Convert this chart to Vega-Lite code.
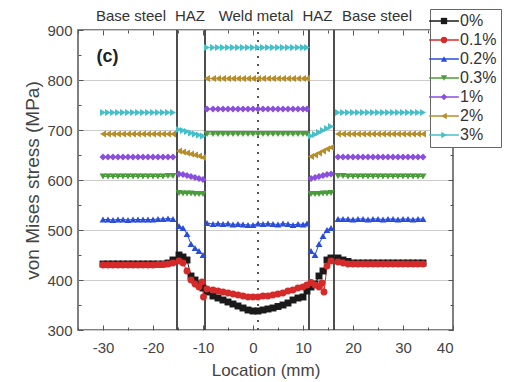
{
"$schema":"https://vega.github.io/schema/vega-lite/v6.json",
"width":375,"height":300,
"autosize":{"type":"none"},
"padding":{"left":78,"top":30,"right":54,"bottom":52},
"config":{"font":"Liberation Sans","view":{"stroke":"#555","strokeWidth":1.5},
"axis":{"domain":false,"labelFont":"Liberation Sans","titleFont":"Liberation Sans","labelColor":"#444","titleColor":"#444","tickColor":"#555","titleFontWeight":"normal","grid":false}},
"datasets":{"pts":[
{"s":"0%","x":-30,"y":432,"r":1},{"s":"0%","x":-29,"y":432,"r":1},{"s":"0%","x":-28,"y":432,"r":1},{"s":"0%","x":-27,"y":432,"r":1},{"s":"0%","x":-26,"y":432,"r":1},{"s":"0%","x":-25,"y":432,"r":1},{"s":"0%","x":-24,"y":432,"r":1},{"s":"0%","x":-23,"y":432,"r":1},{"s":"0%","x":-22,"y":432,"r":1},{"s":"0%","x":-21,"y":432,"r":1},{"s":"0%","x":-20,"y":432,"r":1},{"s":"0%","x":-19,"y":432,"r":1},{"s":"0%","x":-18,"y":432,"r":1},{"s":"0%","x":-17,"y":434,"r":1},{"s":"0%","x":-16,"y":440,"r":1},
{"s":"0%","x":-14.8,"y":450,"r":2},{"s":"0%","x":-14,"y":446,"r":2},{"s":"0%","x":-13.2,"y":440,"r":2},{"s":"0%","x":-12.4,"y":408,"r":2},{"s":"0%","x":-11.6,"y":400,"r":2},{"s":"0%","x":-10.8,"y":392,"r":2},{"s":"0%","x":-10,"y":384,"r":2},
{"s":"0%","x":-9.2,"y":376,"r":3},{"s":"0%","x":-8,"y":368,"r":3},{"s":"0%","x":-7,"y":364,"r":3},{"s":"0%","x":-6,"y":360,"r":3},{"s":"0%","x":-5,"y":356,"r":3},{"s":"0%","x":-4,"y":352,"r":3},{"s":"0%","x":-3,"y":348,"r":3},{"s":"0%","x":-2,"y":344,"r":3},{"s":"0%","x":-1,"y":340,"r":3},{"s":"0%","x":0,"y":338,"r":3},{"s":"0%","x":1,"y":338,"r":3},{"s":"0%","x":2,"y":340,"r":3},{"s":"0%","x":3,"y":342,"r":3},{"s":"0%","x":4,"y":344,"r":3},{"s":"0%","x":5,"y":347,"r":3},{"s":"0%","x":6,"y":350,"r":3},{"s":"0%","x":7,"y":354,"r":3},{"s":"0%","x":8,"y":360,"r":3},{"s":"0%","x":9,"y":364,"r":3},{"s":"0%","x":10,"y":366,"r":3},{"s":"0%","x":10.8,"y":378,"r":3},
{"s":"0%","x":11.6,"y":386,"r":4},{"s":"0%","x":12.4,"y":392,"r":4},{"s":"0%","x":13.2,"y":408,"r":4},{"s":"0%","x":14,"y":418,"r":4},{"s":"0%","x":14.8,"y":440,"r":4},{"s":"0%","x":15.6,"y":444,"r":4},
{"s":"0%","x":17,"y":444,"r":5},{"s":"0%","x":18,"y":440,"r":5},{"s":"0%","x":19,"y":437,"r":5},{"s":"0%","x":20,"y":434,"r":5},{"s":"0%","x":21,"y":434,"r":5},{"s":"0%","x":22,"y":434,"r":5},{"s":"0%","x":23,"y":434,"r":5},{"s":"0%","x":24,"y":434,"r":5},{"s":"0%","x":25,"y":434,"r":5},{"s":"0%","x":26,"y":434,"r":5},{"s":"0%","x":27,"y":434,"r":5},{"s":"0%","x":28,"y":434,"r":5},{"s":"0%","x":29,"y":434,"r":5},{"s":"0%","x":30,"y":434,"r":5},{"s":"0%","x":31,"y":434,"r":5},{"s":"0%","x":32,"y":434,"r":5},{"s":"0%","x":33,"y":434,"r":5},{"s":"0%","x":34,"y":434,"r":5},

{"s":"0.1%","x":-30,"y":430,"r":1},{"s":"0.1%","x":-29,"y":430,"r":1},{"s":"0.1%","x":-28,"y":430,"r":1},{"s":"0.1%","x":-27,"y":430,"r":1},{"s":"0.1%","x":-26,"y":430,"r":1},{"s":"0.1%","x":-25,"y":430,"r":1},{"s":"0.1%","x":-24,"y":430,"r":1},{"s":"0.1%","x":-23,"y":430,"r":1},{"s":"0.1%","x":-22,"y":430,"r":1},{"s":"0.1%","x":-21,"y":430,"r":1},{"s":"0.1%","x":-20,"y":430,"r":1},{"s":"0.1%","x":-19,"y":431,"r":1},{"s":"0.1%","x":-18,"y":431,"r":1},{"s":"0.1%","x":-17,"y":432,"r":1},{"s":"0.1%","x":-16,"y":434,"r":1},
{"s":"0.1%","x":-14.8,"y":438,"r":2},{"s":"0.1%","x":-14,"y":434,"r":2},{"s":"0.1%","x":-13.2,"y":418,"r":2},{"s":"0.1%","x":-12.4,"y":400,"r":2},{"s":"0.1%","x":-11.6,"y":392,"r":2},{"s":"0.1%","x":-10.8,"y":386,"r":2},{"s":"0.1%","x":-10.2,"y":396,"r":2},{"s":"0.1%","x":-9.9,"y":366,"r":2},
{"s":"0.1%","x":-9.2,"y":382,"r":3},{"s":"0.1%","x":-8,"y":380,"r":3},{"s":"0.1%","x":-7,"y":378,"r":3},{"s":"0.1%","x":-6,"y":376,"r":3},{"s":"0.1%","x":-5,"y":374,"r":3},{"s":"0.1%","x":-4,"y":372,"r":3},{"s":"0.1%","x":-3,"y":370,"r":3},{"s":"0.1%","x":-2,"y":368,"r":3},{"s":"0.1%","x":-1,"y":366,"r":3},{"s":"0.1%","x":0,"y":366,"r":3},{"s":"0.1%","x":1,"y":366,"r":3},{"s":"0.1%","x":2,"y":368,"r":3},{"s":"0.1%","x":3,"y":368,"r":3},{"s":"0.1%","x":4,"y":370,"r":3},{"s":"0.1%","x":5,"y":372,"r":3},{"s":"0.1%","x":6,"y":374,"r":3},{"s":"0.1%","x":7,"y":378,"r":3},{"s":"0.1%","x":8,"y":380,"r":3},{"s":"0.1%","x":9,"y":384,"r":3},{"s":"0.1%","x":10,"y":386,"r":3},{"s":"0.1%","x":10.8,"y":390,"r":3},
{"s":"0.1%","x":11.6,"y":395,"r":4},{"s":"0.1%","x":12.4,"y":390,"r":4},{"s":"0.1%","x":13.2,"y":386,"r":4},{"s":"0.1%","x":13.8,"y":394,"r":4},{"s":"0.1%","x":14.2,"y":376,"r":4},{"s":"0.1%","x":14.8,"y":428,"r":4},{"s":"0.1%","x":15.6,"y":438,"r":4},
{"s":"0.1%","x":17,"y":436,"r":5},{"s":"0.1%","x":18,"y":434,"r":5},{"s":"0.1%","x":19,"y":432,"r":5},{"s":"0.1%","x":20,"y":432,"r":5},{"s":"0.1%","x":21,"y":432,"r":5},{"s":"0.1%","x":22,"y":432,"r":5},{"s":"0.1%","x":23,"y":432,"r":5},{"s":"0.1%","x":24,"y":432,"r":5},{"s":"0.1%","x":25,"y":432,"r":5},{"s":"0.1%","x":26,"y":432,"r":5},{"s":"0.1%","x":27,"y":432,"r":5},{"s":"0.1%","x":28,"y":432,"r":5},{"s":"0.1%","x":29,"y":432,"r":5},{"s":"0.1%","x":30,"y":432,"r":5},{"s":"0.1%","x":31,"y":432,"r":5},{"s":"0.1%","x":32,"y":432,"r":5},{"s":"0.1%","x":33,"y":432,"r":5},{"s":"0.1%","x":34,"y":432,"r":5},

{"s":"0.2%","x":-30,"y":521,"r":1},{"s":"0.2%","x":-29,"y":521,"r":1},{"s":"0.2%","x":-28,"y":520,"r":1},{"s":"0.2%","x":-27,"y":521,"r":1},{"s":"0.2%","x":-26,"y":521,"r":1},{"s":"0.2%","x":-25,"y":520,"r":1},{"s":"0.2%","x":-24,"y":521,"r":1},{"s":"0.2%","x":-23,"y":521,"r":1},{"s":"0.2%","x":-22,"y":521,"r":1},{"s":"0.2%","x":-21,"y":521,"r":1},{"s":"0.2%","x":-20,"y":521,"r":1},{"s":"0.2%","x":-19,"y":522,"r":1},{"s":"0.2%","x":-18,"y":522,"r":1},{"s":"0.2%","x":-17,"y":523,"r":1},{"s":"0.2%","x":-16,"y":522,"r":1},
{"s":"0.2%","x":-14.8,"y":508,"r":2},{"s":"0.2%","x":-14,"y":504,"r":2},{"s":"0.2%","x":-13.2,"y":492,"r":2},{"s":"0.2%","x":-12.4,"y":472,"r":2},{"s":"0.2%","x":-11.6,"y":464,"r":2},{"s":"0.2%","x":-10.8,"y":458,"r":2},{"s":"0.2%","x":-10,"y":450,"r":2},
{"s":"0.2%","x":-9.2,"y":514,"r":3},{"s":"0.2%","x":-8,"y":512,"r":3},{"s":"0.2%","x":-7,"y":513,"r":3},{"s":"0.2%","x":-6,"y":512,"r":3},{"s":"0.2%","x":-5,"y":513,"r":3},{"s":"0.2%","x":-4,"y":511,"r":3},{"s":"0.2%","x":-3,"y":512,"r":3},{"s":"0.2%","x":-2,"y":511,"r":3},{"s":"0.2%","x":-1,"y":510,"r":3},{"s":"0.2%","x":0,"y":510,"r":3},{"s":"0.2%","x":1,"y":513,"r":3},{"s":"0.2%","x":2,"y":512,"r":3},{"s":"0.2%","x":3,"y":513,"r":3},{"s":"0.2%","x":4,"y":512,"r":3},{"s":"0.2%","x":5,"y":511,"r":3},{"s":"0.2%","x":6,"y":513,"r":3},{"s":"0.2%","x":7,"y":512,"r":3},{"s":"0.2%","x":8,"y":510,"r":3},{"s":"0.2%","x":9,"y":512,"r":3},{"s":"0.2%","x":10,"y":511,"r":3},{"s":"0.2%","x":10.8,"y":513,"r":3},
{"s":"0.2%","x":11.6,"y":458,"r":4},{"s":"0.2%","x":12.4,"y":450,"r":4},{"s":"0.2%","x":13.2,"y":472,"r":4},{"s":"0.2%","x":14,"y":488,"r":4},{"s":"0.2%","x":14.8,"y":500,"r":4},{"s":"0.2%","x":15.6,"y":504,"r":4},
{"s":"0.2%","x":17,"y":522,"r":5},{"s":"0.2%","x":18,"y":522,"r":5},{"s":"0.2%","x":19,"y":522,"r":5},{"s":"0.2%","x":20,"y":521,"r":5},{"s":"0.2%","x":21,"y":522,"r":5},{"s":"0.2%","x":22,"y":522,"r":5},{"s":"0.2%","x":23,"y":521,"r":5},{"s":"0.2%","x":24,"y":522,"r":5},{"s":"0.2%","x":25,"y":522,"r":5},{"s":"0.2%","x":26,"y":521,"r":5},{"s":"0.2%","x":27,"y":522,"r":5},{"s":"0.2%","x":28,"y":522,"r":5},{"s":"0.2%","x":29,"y":521,"r":5},{"s":"0.2%","x":30,"y":522,"r":5},{"s":"0.2%","x":31,"y":522,"r":5},{"s":"0.2%","x":32,"y":521,"r":5},{"s":"0.2%","x":33,"y":522,"r":5},{"s":"0.2%","x":34,"y":522,"r":5},

{"s":"0.3%","x":-30,"y":607,"r":1},{"s":"0.3%","x":-29,"y":607,"r":1},{"s":"0.3%","x":-28,"y":607,"r":1},{"s":"0.3%","x":-27,"y":607,"r":1},{"s":"0.3%","x":-26,"y":607,"r":1},{"s":"0.3%","x":-25,"y":607,"r":1},{"s":"0.3%","x":-24,"y":607,"r":1},{"s":"0.3%","x":-23,"y":607,"r":1},{"s":"0.3%","x":-22,"y":607,"r":1},{"s":"0.3%","x":-21,"y":607,"r":1},{"s":"0.3%","x":-20,"y":607,"r":1},{"s":"0.3%","x":-19,"y":607,"r":1},{"s":"0.3%","x":-18,"y":607,"r":1},{"s":"0.3%","x":-17,"y":608,"r":1},{"s":"0.3%","x":-16,"y":608,"r":1},
{"s":"0.3%","x":-14.8,"y":574,"r":2},{"s":"0.3%","x":-14,"y":573,"r":2},{"s":"0.3%","x":-13.2,"y":573,"r":2},{"s":"0.3%","x":-12.4,"y":573,"r":2},{"s":"0.3%","x":-11.6,"y":572,"r":2},{"s":"0.3%","x":-10.8,"y":572,"r":2},{"s":"0.3%","x":-10,"y":572,"r":2},
{"s":"0.3%","x":-9.2,"y":692,"r":3},{"s":"0.3%","x":-8,"y":692,"r":3},{"s":"0.3%","x":-7,"y":692,"r":3},{"s":"0.3%","x":-6,"y":692,"r":3},{"s":"0.3%","x":-5,"y":692,"r":3},{"s":"0.3%","x":-4,"y":692,"r":3},{"s":"0.3%","x":-3,"y":692,"r":3},{"s":"0.3%","x":-2,"y":692,"r":3},{"s":"0.3%","x":-1,"y":692,"r":3},{"s":"0.3%","x":0,"y":692,"r":3},{"s":"0.3%","x":1,"y":692,"r":3},{"s":"0.3%","x":2,"y":692,"r":3},{"s":"0.3%","x":3,"y":692,"r":3},{"s":"0.3%","x":4,"y":692,"r":3},{"s":"0.3%","x":5,"y":692,"r":3},{"s":"0.3%","x":6,"y":692,"r":3},{"s":"0.3%","x":7,"y":692,"r":3},{"s":"0.3%","x":8,"y":692,"r":3},{"s":"0.3%","x":9,"y":692,"r":3},{"s":"0.3%","x":10,"y":692,"r":3},{"s":"0.3%","x":10.8,"y":692,"r":3},
{"s":"0.3%","x":11.6,"y":572,"r":4},{"s":"0.3%","x":12.4,"y":572,"r":4},{"s":"0.3%","x":13.2,"y":572,"r":4},{"s":"0.3%","x":14,"y":573,"r":4},{"s":"0.3%","x":14.8,"y":573,"r":4},{"s":"0.3%","x":15.6,"y":574,"r":4},
{"s":"0.3%","x":17,"y":608,"r":5},{"s":"0.3%","x":18,"y":608,"r":5},{"s":"0.3%","x":19,"y":607,"r":5},{"s":"0.3%","x":20,"y":607,"r":5},{"s":"0.3%","x":21,"y":607,"r":5},{"s":"0.3%","x":22,"y":607,"r":5},{"s":"0.3%","x":23,"y":607,"r":5},{"s":"0.3%","x":24,"y":607,"r":5},{"s":"0.3%","x":25,"y":607,"r":5},{"s":"0.3%","x":26,"y":607,"r":5},{"s":"0.3%","x":27,"y":607,"r":5},{"s":"0.3%","x":28,"y":607,"r":5},{"s":"0.3%","x":29,"y":607,"r":5},{"s":"0.3%","x":30,"y":607,"r":5},{"s":"0.3%","x":31,"y":607,"r":5},{"s":"0.3%","x":32,"y":607,"r":5},{"s":"0.3%","x":33,"y":607,"r":5},{"s":"0.3%","x":34,"y":607,"r":5},

{"s":"1%","x":-30,"y":646,"r":1},{"s":"1%","x":-29,"y":646,"r":1},{"s":"1%","x":-28,"y":646,"r":1},{"s":"1%","x":-27,"y":646,"r":1},{"s":"1%","x":-26,"y":646,"r":1},{"s":"1%","x":-25,"y":646,"r":1},{"s":"1%","x":-24,"y":646,"r":1},{"s":"1%","x":-23,"y":646,"r":1},{"s":"1%","x":-22,"y":646,"r":1},{"s":"1%","x":-21,"y":646,"r":1},{"s":"1%","x":-20,"y":646,"r":1},{"s":"1%","x":-19,"y":646,"r":1},{"s":"1%","x":-18,"y":646,"r":1},{"s":"1%","x":-17,"y":646,"r":1},{"s":"1%","x":-16,"y":646,"r":1},
{"s":"1%","x":-14.8,"y":612,"r":2},{"s":"1%","x":-14,"y":611,"r":2},{"s":"1%","x":-13.2,"y":609,"r":2},{"s":"1%","x":-12.4,"y":607,"r":2},{"s":"1%","x":-11.6,"y":605,"r":2},{"s":"1%","x":-10.8,"y":603,"r":2},{"s":"1%","x":-10,"y":601,"r":2},
{"s":"1%","x":-9.2,"y":742,"r":3},{"s":"1%","x":-8,"y":742,"r":3},{"s":"1%","x":-7,"y":742,"r":3},{"s":"1%","x":-6,"y":742,"r":3},{"s":"1%","x":-5,"y":742,"r":3},{"s":"1%","x":-4,"y":742,"r":3},{"s":"1%","x":-3,"y":742,"r":3},{"s":"1%","x":-2,"y":742,"r":3},{"s":"1%","x":-1,"y":742,"r":3},{"s":"1%","x":0,"y":742,"r":3},{"s":"1%","x":1,"y":742,"r":3},{"s":"1%","x":2,"y":742,"r":3},{"s":"1%","x":3,"y":742,"r":3},{"s":"1%","x":4,"y":742,"r":3},{"s":"1%","x":5,"y":742,"r":3},{"s":"1%","x":6,"y":742,"r":3},{"s":"1%","x":7,"y":742,"r":3},{"s":"1%","x":8,"y":742,"r":3},{"s":"1%","x":9,"y":742,"r":3},{"s":"1%","x":10,"y":742,"r":3},{"s":"1%","x":10.8,"y":742,"r":3},
{"s":"1%","x":11.6,"y":603,"r":4},{"s":"1%","x":12.4,"y":605,"r":4},{"s":"1%","x":13.2,"y":607,"r":4},{"s":"1%","x":14,"y":609,"r":4},{"s":"1%","x":14.8,"y":611,"r":4},{"s":"1%","x":15.6,"y":612,"r":4},
{"s":"1%","x":17,"y":646,"r":5},{"s":"1%","x":18,"y":646,"r":5},{"s":"1%","x":19,"y":646,"r":5},{"s":"1%","x":20,"y":646,"r":5},{"s":"1%","x":21,"y":646,"r":5},{"s":"1%","x":22,"y":646,"r":5},{"s":"1%","x":23,"y":646,"r":5},{"s":"1%","x":24,"y":646,"r":5},{"s":"1%","x":25,"y":646,"r":5},{"s":"1%","x":26,"y":646,"r":5},{"s":"1%","x":27,"y":646,"r":5},{"s":"1%","x":28,"y":646,"r":5},{"s":"1%","x":29,"y":646,"r":5},{"s":"1%","x":30,"y":646,"r":5},{"s":"1%","x":31,"y":646,"r":5},{"s":"1%","x":32,"y":646,"r":5},{"s":"1%","x":33,"y":646,"r":5},{"s":"1%","x":34,"y":646,"r":5},

{"s":"2%","x":-30,"y":692,"r":1},{"s":"2%","x":-29,"y":692,"r":1},{"s":"2%","x":-28,"y":692,"r":1},{"s":"2%","x":-27,"y":692,"r":1},{"s":"2%","x":-26,"y":692,"r":1},{"s":"2%","x":-25,"y":692,"r":1},{"s":"2%","x":-24,"y":692,"r":1},{"s":"2%","x":-23,"y":692,"r":1},{"s":"2%","x":-22,"y":692,"r":1},{"s":"2%","x":-21,"y":692,"r":1},{"s":"2%","x":-20,"y":692,"r":1},{"s":"2%","x":-19,"y":692,"r":1},{"s":"2%","x":-18,"y":692,"r":1},{"s":"2%","x":-17,"y":692,"r":1},{"s":"2%","x":-16,"y":692,"r":1},
{"s":"2%","x":-14.8,"y":658,"r":2},{"s":"2%","x":-14,"y":656,"r":2},{"s":"2%","x":-13.2,"y":654,"r":2},{"s":"2%","x":-12.4,"y":652,"r":2},{"s":"2%","x":-11.6,"y":650,"r":2},{"s":"2%","x":-10.8,"y":648,"r":2},{"s":"2%","x":-10,"y":645,"r":2},
{"s":"2%","x":-9.2,"y":803,"r":3},{"s":"2%","x":-8,"y":803,"r":3},{"s":"2%","x":-7,"y":803,"r":3},{"s":"2%","x":-6,"y":803,"r":3},{"s":"2%","x":-5,"y":803,"r":3},{"s":"2%","x":-4,"y":803,"r":3},{"s":"2%","x":-3,"y":803,"r":3},{"s":"2%","x":-2,"y":803,"r":3},{"s":"2%","x":-1,"y":803,"r":3},{"s":"2%","x":0,"y":803,"r":3},{"s":"2%","x":1,"y":803,"r":3},{"s":"2%","x":2,"y":803,"r":3},{"s":"2%","x":3,"y":803,"r":3},{"s":"2%","x":4,"y":803,"r":3},{"s":"2%","x":5,"y":803,"r":3},{"s":"2%","x":6,"y":803,"r":3},{"s":"2%","x":7,"y":803,"r":3},{"s":"2%","x":8,"y":803,"r":3},{"s":"2%","x":9,"y":803,"r":3},{"s":"2%","x":10,"y":803,"r":3},{"s":"2%","x":10.8,"y":803,"r":3},
{"s":"2%","x":11.6,"y":647,"r":4},{"s":"2%","x":12.4,"y":650,"r":4},{"s":"2%","x":13.2,"y":654,"r":4},{"s":"2%","x":14,"y":658,"r":4},{"s":"2%","x":14.8,"y":662,"r":4},{"s":"2%","x":15.6,"y":665,"r":4},
{"s":"2%","x":17,"y":692,"r":5},{"s":"2%","x":18,"y":692,"r":5},{"s":"2%","x":19,"y":692,"r":5},{"s":"2%","x":20,"y":692,"r":5},{"s":"2%","x":21,"y":692,"r":5},{"s":"2%","x":22,"y":692,"r":5},{"s":"2%","x":23,"y":692,"r":5},{"s":"2%","x":24,"y":692,"r":5},{"s":"2%","x":25,"y":692,"r":5},{"s":"2%","x":26,"y":692,"r":5},{"s":"2%","x":27,"y":692,"r":5},{"s":"2%","x":28,"y":692,"r":5},{"s":"2%","x":29,"y":692,"r":5},{"s":"2%","x":30,"y":692,"r":5},{"s":"2%","x":31,"y":692,"r":5},{"s":"2%","x":32,"y":692,"r":5},{"s":"2%","x":33,"y":692,"r":5},{"s":"2%","x":34,"y":692,"r":5},

{"s":"3%","x":-30,"y":735,"r":1},{"s":"3%","x":-29,"y":735,"r":1},{"s":"3%","x":-28,"y":735,"r":1},{"s":"3%","x":-27,"y":735,"r":1},{"s":"3%","x":-26,"y":735,"r":1},{"s":"3%","x":-25,"y":735,"r":1},{"s":"3%","x":-24,"y":735,"r":1},{"s":"3%","x":-23,"y":735,"r":1},{"s":"3%","x":-22,"y":735,"r":1},{"s":"3%","x":-21,"y":735,"r":1},{"s":"3%","x":-20,"y":735,"r":1},{"s":"3%","x":-19,"y":735,"r":1},{"s":"3%","x":-18,"y":735,"r":1},{"s":"3%","x":-17,"y":735,"r":1},{"s":"3%","x":-16,"y":735,"r":1},
{"s":"3%","x":-14.8,"y":701,"r":2},{"s":"3%","x":-14,"y":699,"r":2},{"s":"3%","x":-13.2,"y":697,"r":2},{"s":"3%","x":-12.4,"y":694,"r":2},{"s":"3%","x":-11.6,"y":692,"r":2},{"s":"3%","x":-10.8,"y":690,"r":2},{"s":"3%","x":-10,"y":688,"r":2},
{"s":"3%","x":-9.2,"y":865,"r":3},{"s":"3%","x":-8,"y":865,"r":3},{"s":"3%","x":-7,"y":865,"r":3},{"s":"3%","x":-6,"y":865,"r":3},{"s":"3%","x":-5,"y":865,"r":3},{"s":"3%","x":-4,"y":865,"r":3},{"s":"3%","x":-3,"y":865,"r":3},{"s":"3%","x":-2,"y":865,"r":3},{"s":"3%","x":-1,"y":865,"r":3},{"s":"3%","x":0,"y":865,"r":3},{"s":"3%","x":1,"y":865,"r":3},{"s":"3%","x":2,"y":865,"r":3},{"s":"3%","x":3,"y":865,"r":3},{"s":"3%","x":4,"y":865,"r":3},{"s":"3%","x":5,"y":865,"r":3},{"s":"3%","x":6,"y":865,"r":3},{"s":"3%","x":7,"y":865,"r":3},{"s":"3%","x":8,"y":865,"r":3},{"s":"3%","x":9,"y":865,"r":3},{"s":"3%","x":10,"y":865,"r":3},{"s":"3%","x":10.8,"y":865,"r":3},
{"s":"3%","x":11.6,"y":688,"r":4},{"s":"3%","x":12.4,"y":691,"r":4},{"s":"3%","x":13.2,"y":695,"r":4},{"s":"3%","x":14,"y":699,"r":4},{"s":"3%","x":14.8,"y":703,"r":4},{"s":"3%","x":15.6,"y":707,"r":4},
{"s":"3%","x":17,"y":735,"r":5},{"s":"3%","x":18,"y":735,"r":5},{"s":"3%","x":19,"y":735,"r":5},{"s":"3%","x":20,"y":735,"r":5},{"s":"3%","x":21,"y":735,"r":5},{"s":"3%","x":22,"y":735,"r":5},{"s":"3%","x":23,"y":735,"r":5},{"s":"3%","x":24,"y":735,"r":5},{"s":"3%","x":25,"y":735,"r":5},{"s":"3%","x":26,"y":735,"r":5},{"s":"3%","x":27,"y":735,"r":5},{"s":"3%","x":28,"y":735,"r":5},{"s":"3%","x":29,"y":735,"r":5},{"s":"3%","x":30,"y":735,"r":5},{"s":"3%","x":31,"y":735,"r":5},{"s":"3%","x":32,"y":735,"r":5},{"s":"3%","x":33,"y":735,"r":5},{"s":"3%","x":34,"y":735,"r":5}
]},
"layer":[
{"data":{"values":[{"b":-15.2},{"b":-9.6},{"b":11.2},{"b":16.2}]},
 "mark":{"type":"rule","color":"#3a3a3a","strokeWidth":1.8},
 "encoding":{
  "x":{"field":"b","type":"quantitative","scale":{"domain":[-35,40],"nice":false,"zero":false},
   "axis":{"orient":"bottom","values":[-30,-20,-10,0,10,20,30,40],"labelExpr":"''+datum.value","tickSize":-5,"labelPadding":15,"labelFontSize":15,"title":"Location (mm)","titleFontSize":17,"titlePadding":7}},
  "y":{"datum":300,"type":"quantitative","scale":{"domain":[300,900],"nice":false,"zero":false},
   "axis":{"orient":"left","values":[300,400,500,600,700,800,900],"tickSize":-5,"labelPadding":11,"labelFontSize":15,"title":"von Mises stress (MPa)","titleFontSize":19,"titlePadding":4,"grid":true,"gridColor":"#cccccc"}},
  "y2":{"datum":900}}},
{"data":{"values":[{"b":1}]},
 "mark":{"type":"rule","color":"#555","strokeWidth":2,"strokeDash":[2,6]},
 "encoding":{
  "x":{"field":"b","type":"quantitative","scale":{"domain":[-35,40],"nice":false,"zero":false},
   "axis":{"orient":"top","values":[-30,-20,-10,0,10,20,30,40],"tickSize":-5,"labels":false,"title":null}},
  "y":{"datum":300,"type":"quantitative","scale":{"domain":[300,900],"nice":false,"zero":false},
   "axis":{"orient":"right","values":[300,400,500,600,700,800,900],"tickSize":-5,"labels":false,"title":null}},
  "y2":{"datum":900}}},
{"data":{"name":"pts"},
 "mark":{"type":"line","strokeWidth":1},
 "encoding":{
  "x":{"field":"x","type":"quantitative","scale":{"domain":[-35,40],"nice":false,"zero":false},
   "axis":{"orient":"bottom","values":[-35,-25,-15,-5,5,15,25,35],"tickSize":-3,"labels":false,"title":null}},
  "y":{"field":"y","type":"quantitative","scale":{"domain":[300,900],"nice":false,"zero":false},
   "axis":{"orient":"left","values":[350,450,550,650,750,850],"tickSize":-3,"labels":false,"title":null}},
  "detail":{"field":"r","type":"nominal"},
  "stroke":{"field":"s","type":"nominal","scale":{"domain":["0%","0.1%","0.2%","0.3%","1%","2%","3%"],"range":["#1a1a1a","#d62a2a","#2a4ed8","#4a9c3a","#8a4fdc","#b88e28","#45c0c8"]},
   "legend":{"orient":"none","legendX":352,"legendY":-21,"title":null,"symbolType":"M-4.7,0H4.7","symbolSize":40,"symbolOffset":2,"symbolStrokeWidth":1.5,"labelFontSize":16,"labelColor":"#333","labelOffset":8,"labelExpr":"datum.label + '\u00a0\u00a0\u00a0'","rowPadding":3,"padding":4,"strokeColor":"#666","fillColor":"white","zindex":1}}}},
{"data":{"name":"pts"},
 "mark":{"type":"point","filled":true,"size":48,"opacity":1},
 "encoding":{
  "x":{"field":"x","type":"quantitative","scale":{"domain":[-35,40],"nice":false,"zero":false},
   "axis":{"orient":"top","values":[-35,-25,-15,-5,5,15,25,35],"tickSize":-3,"labels":false,"title":null}},
  "y":{"field":"y","type":"quantitative","scale":{"domain":[300,900],"nice":false,"zero":false},
   "axis":{"orient":"right","values":[350,450,550,650,750,850],"tickSize":-3,"labels":false,"title":null}},
  "color":{"field":"s","type":"nominal","scale":{"range":["#1a1a1a","#d62a2a","#2a4ed8","#4a9c3a","#8a4fdc","#b88e28","#45c0c8"]},
   "legend":{"orient":"none","legendX":352,"legendY":-21,"title":null,"symbolSize":40,"symbolOffset":2,"labelFontSize":16,"labelOpacity":0,"labelOffset":8,"rowPadding":3,"padding":4,"zindex":2}},
  "shape":{"field":"s","type":"nominal","scale":{"range":["square","circle","triangle-up","triangle-down","diamond","triangle-left","triangle-right"]},
   "legend":{"orient":"none","legendX":352,"legendY":-21,"title":null,"symbolSize":40,"symbolOffset":2,"labelFontSize":16,"labelOpacity":0,"labelOffset":8,"rowPadding":3,"padding":4,"zindex":2}}}},
{"data":{"values":[{"t":"Base steel","x":-24.4},{"t":"HAZ","x":-12.6},{"t":"Weld metal","x":0.6},{"t":"HAZ","x":12.9},{"t":"Base steel","x":24.8}]},
 "mark":{"type":"text","fontSize":15,"color":"#333","baseline":"middle","dy":-14,"font":"Liberation Sans"},
 "encoding":{
  "x":{"field":"x","type":"quantitative","scale":{"domain":[-35,40],"nice":false,"zero":false},"axis":null},
  "y":{"datum":900,"type":"quantitative","scale":{"domain":[300,900],"nice":false,"zero":false},"axis":null},
  "text":{"field":"t"}}},
{"data":{"values":[{"t":"(c)","x":-31.3,"y":846}]},
 "mark":{"type":"text","fontSize":18,"fontWeight":"bold","color":"#222","align":"left","baseline":"middle","font":"Liberation Sans"},
 "encoding":{
  "x":{"field":"x","type":"quantitative","scale":{"domain":[-35,40],"nice":false,"zero":false},"axis":null},
  "y":{"field":"y","type":"quantitative","scale":{"domain":[300,900],"nice":false,"zero":false},"axis":null},
  "text":{"field":"t"}}}
],
"resolve":{"axis":{"x":"independent","y":"independent"}}
}
